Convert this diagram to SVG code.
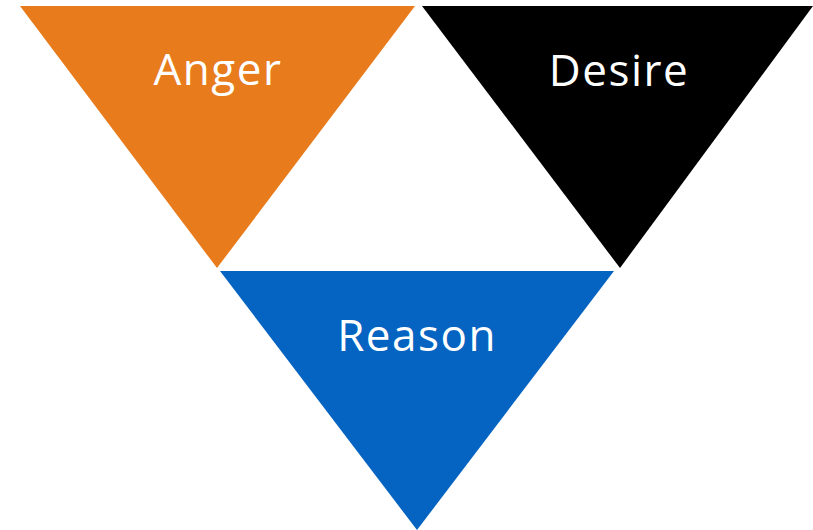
<svg xmlns="http://www.w3.org/2000/svg" width="813" height="530" viewBox="0 0 813 530">
<style>
.lbl{font-family:"Open Sans","DejaVu Sans",sans-serif;font-size:44px;fill:#fff;text-anchor:middle;letter-spacing:1.5px}
</style>
<rect width="813" height="530" fill="#fff"/>
<g id="anger">
<polygon points="20,6 415,6 217,268" fill="#E87B1C"/>
<text class="lbl" x="218" y="85">Anger</text>
</g>
<g id="desire">
<polygon points="422,6 813,6 620,268" fill="#000"/>
<text class="lbl" x="619" y="86">Desire</text>
</g>
<g id="reason">
<polygon points="220,271 614,271 417,530" fill="#0563C1"/>
<text class="lbl" x="417" y="351">Reason</text>
</g>
<g id="connectors"></g>
</svg>
